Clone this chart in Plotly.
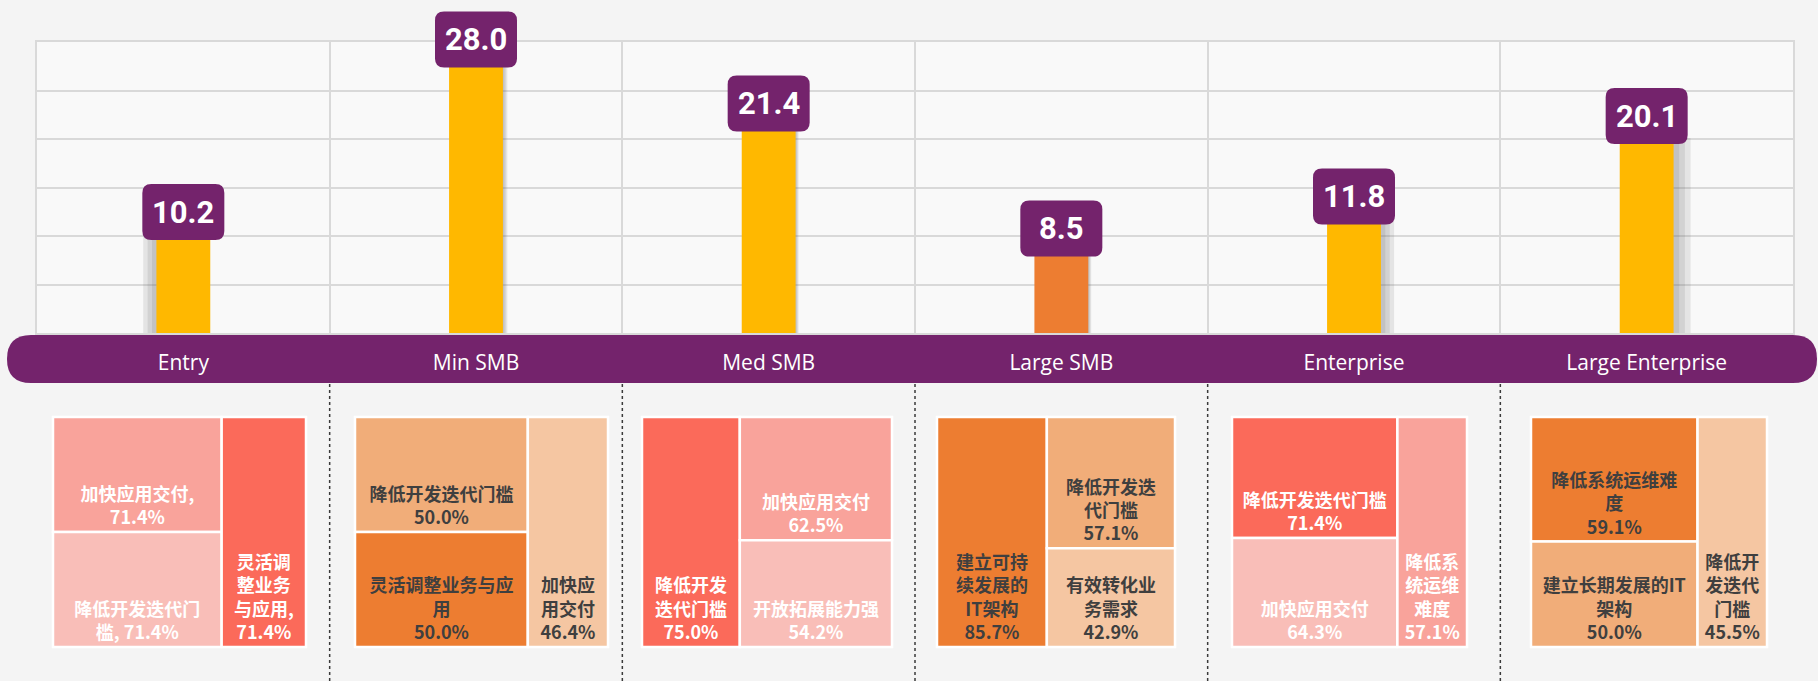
import plotly.graph_objects as go

# ---------------- data ----------------
categories = ["Entry", "Min SMB", "Med SMB", "Large SMB", "Enterprise", "Large Enterprise"]
scores = [10.2, 28.0, 21.4, 8.5, 11.8, 20.1]
bar_colors = ["#FFB800", "#FFB800", "#FFB800", "#ED7D31", "#FFB800", "#FFB800"]

entry_labels = ["加快应用交付", "降低开发迭代门槛", "灵活调整业务与应用"]
entry_wrapped = ["加快应用交付,<br>", "降低开发迭代门<br>槛, ", "灵活调<br>整业务<br>与应用,<br>"]
entry_values = [71.4, 71.4, 71.4]

minsmb_labels = ["降低开发迭代门槛", "灵活调整业务与应用", "加快应用交付"]
minsmb_wrapped = ["降低开发迭代门槛<br>", "灵活调整业务与应<br>用<br>", "加快应<br>用交付<br>"]
minsmb_values = [50.0, 50.0, 46.4]

medsmb_labels = ["降低开发迭代门槛", "加快应用交付", "开放拓展能力强"]
medsmb_wrapped = ["降低开发<br>迭代门槛<br>", "加快应用交付<br>", "开放拓展能力强<br>"]
medsmb_values = [75.0, 62.5, 54.2]

largesmb_labels = ["建立可持续发展的IT架构", "降低开发迭代门槛", "有效转化业务需求"]
largesmb_wrapped = ["建立可持<br>续发展的<br>IT架构<br>", "降低开发迭<br>代门槛<br>", "有效转化业<br>务需求<br>"]
largesmb_values = [85.7, 57.1, 42.9]

ent_labels = ["降低开发迭代门槛", "加快应用交付", "降低系统运维难度"]
ent_wrapped = ["降低开发迭代门槛<br>", "加快应用交付<br>", "降低系<br>统运维<br>难度<br>"]
ent_values = [71.4, 64.3, 57.1]

lent_labels = ["降低系统运维难度", "建立长期发展的IT架构", "降低开发迭代门槛"]
lent_wrapped = ["降低系统运维难<br>度<br>", "建立长期发展的IT<br>架构<br>", "降低开<br>发迭代<br>门槛<br>"]
lent_values = [59.1, 50.0, 45.5]

# ---------------- styling ----------------
W, H = 1818, 681
PURPLE = "#74236C"
Y_MAX = 30

segments = [
    dict(labels=entry_labels, wrapped=entry_wrapped, values=entry_values,
         colors=["#F9A39B", "#F9BEB8", "#FB6A5A"], tc="white", packing="squarify", x=(53, 306)),
    dict(labels=minsmb_labels, wrapped=minsmb_wrapped, values=minsmb_values,
         colors=["#F1AD79", "#ED7D31", "#F5C6A2"], tc="#3F3F3F", packing="squarify", x=(355, 608)),
    dict(labels=medsmb_labels, wrapped=medsmb_wrapped, values=medsmb_values,
         colors=["#FB6A5A", "#F9A39B", "#F9BEB8"], tc="white", packing="binary", x=(642, 892)),
    dict(labels=largesmb_labels, wrapped=largesmb_wrapped, values=largesmb_values,
         colors=["#ED7D31", "#F1AD79", "#F5C6A2"], tc="#3F3F3F", packing="binary", x=(937, 1175)),
    dict(labels=ent_labels, wrapped=ent_wrapped, values=ent_values,
         colors=["#FB6A5A", "#F9BEB8", "#F9A39B"], tc="white", packing="squarify", x=(1232, 1467)),
    dict(labels=lent_labels, wrapped=lent_wrapped, values=lent_values,
         colors=["#ED7D31", "#F1AD79", "#F5C6A2"], tc="#3F3F3F", packing="squarify", x=(1531, 1767)),
]

plot_l, plot_r, plot_t, plot_b = 37, 1793, 42, 333
band_t, band_b, band_l, band_r = 335, 383, 7, 1817
tm_t, tm_b = 417, 647

BAR_W = 0.184
# shadow extents in data units (negative = left side)
shadow_side = [-0.045, 0.015, 0.01, 0.01, 0.045, 0.058]

fig = go.Figure()

# bar shadows (soft, layered)
for k in range(3):
    frac = (k + 1) / 3
    offs, wids = [], []
    for s in shadow_side:
        ext = abs(s) * frac
        if s < 0:
            offs.append(-BAR_W / 2 - ext)
        else:
            offs.append(BAR_W / 2 - 0.01)
        wids.append(ext + 0.01)
    fig.add_trace(go.Bar(x=categories, y=scores, offset=offs, width=wids,
                         marker=dict(color="rgba(90,90,90,0.13)", line=dict(width=0)),
                         hoverinfo="skip", showlegend=False))

fig.add_trace(go.Bar(x=categories, y=scores, width=BAR_W,
                     marker=dict(color=bar_colors, line=dict(width=0)),
                     showlegend=False))


def rrect(x0, y0, x1, y1, r):
    return (f"M {x0+r},{y0} L {x1-r},{y0} Q {x1},{y0} {x1},{y0+r} "
            f"L {x1},{y1-r} Q {x1},{y1} {x1-r},{y1} L {x0+r},{y1} "
            f"Q {x0},{y1} {x0},{y1-r} L {x0},{y0+r} Q {x0},{y0} {x0+r},{y0} Z")


shapes = []
annotations = []
# purple category band
shapes.append(dict(type="path", xref="paper", yref="paper", xsizemode="pixel", ysizemode="pixel",
                   xanchor=0, yanchor=0,
                   path=rrect(band_l, H - band_b, band_r, H - band_t, 24),
                   fillcolor=PURPLE, line=dict(width=0), layer="below"))

# value boxes
for i, (c, v) in enumerate(zip(categories, scores)):
    shapes.append(dict(type="path", xref="x", yref="y domain", xsizemode="pixel", ysizemode="pixel",
                       xanchor=i, yanchor=v / Y_MAX, path=rrect(-41, -6, 41, 50, 9),
                       fillcolor=PURPLE, line=dict(width=0), layer="above"))
    annotations.append(dict(x=c, y=v, xref="x", yref="y", text=f"<b>{v:.1f}</b>", showarrow=False,
                            yanchor="middle", yshift=22,
                            font=dict(family="Roboto, Liberation Sans, sans-serif",
                                      size=31, color="white")))

# dotted separators below band
for i in range(len(categories) - 1):
    shapes.append(dict(type="line", xref="x", yref="paper", x0=i + 0.5, x1=i + 0.5,
                       y0=0, y1=1 - band_b / H, line=dict(color="#3A3A3A", width=1.5, dash="dot")))

# treemaps
for seg in segments:
    texts = [w + f"{v:.1f}%" for w, v in zip(seg["wrapped"], seg["values"])]
    fig.add_trace(go.Treemap(
        labels=seg["labels"], parents=[""] * len(seg["labels"]), values=seg["values"],
        text=texts, textinfo="text", textposition="bottom center",
        textfont=dict(family="Noto Sans CJK SC", size=18, color=seg["tc"], weight="bold"),
        marker=dict(colors=seg["colors"], line=dict(color="white", width=2.5),
                    pad=dict(t=0, l=0, r=0, b=0)),
        tiling=dict(packing=seg["packing"], pad=0),
        pathbar=dict(visible=False), sort=True, hoverinfo="label+value",
        domain=dict(x=[seg["x"][0] / W, seg["x"][1] / W], y=[1 - tm_b / H, 1 - tm_t / H]),
    ))

fig.update_layout(
    width=W, height=H, margin=dict(l=0, r=0, t=0, b=0),
    paper_bgcolor="#F4F4F4", plot_bgcolor="#F9F9F9",
    barmode="overlay", showlegend=False,
    xaxis=dict(domain=[plot_l / W, plot_r / W], range=[-0.5, 5.5], type="category",
               tickson="boundaries", showgrid=True, gridcolor="#D9D9D9", gridwidth=1.5,
               showline=True, linecolor="#D9D9D9", linewidth=1.5, mirror=True,
               ticks="", ticklabelstandoff=10,
               tickfont=dict(family="Open Sans, Noto Sans, sans-serif", size=21, color="white"),
               fixedrange=True),
    yaxis=dict(domain=[1 - plot_b / H, 1 - plot_t / H], range=[0, Y_MAX], dtick=5,
               showgrid=True, gridcolor="#D9D9D9", gridwidth=1.5, showticklabels=False,
               zeroline=False, showline=True, linecolor="#D9D9D9", linewidth=1.5, mirror=True,
               fixedrange=True),
    shapes=shapes, annotations=annotations,
)

fig.write_html("out.html", config={"displayModeBar": False},
               post_script="document.body.style.margin='0px';")
